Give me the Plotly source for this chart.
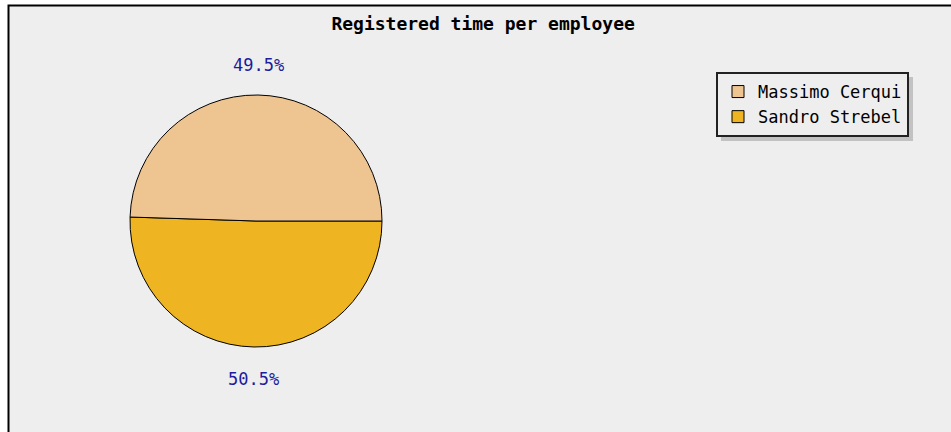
import math
import plotly.graph_objects as go

names = ["Massimo Cerqui", "Sandro Strebel"]
values = [49.5, 50.5]
colors = ["#EEC591", "#EEB422"]

W, H = 951, 432
def px(x): return x / W
def py(y): return 1 - y / H

CX, CY, R = 256, 221, 126   # pie centre and radius in pixels (layout)
LABEL_R = R + 31            # distance of the percentage labels from centre

# slices drawn counterclockwise from 3 o'clock: feed plotly the reversed order clockwise
fig = go.Figure(go.Pie(
    labels=names[::-1], values=values[::-1], sort=False,
    direction="clockwise", rotation=90,
    marker=dict(colors=colors[::-1], line=dict(color="#000000", width=1)),
    textinfo="none",
    domain=dict(x=[px(CX - R), px(CX + R)], y=[py(CY + R), py(CY - R)]),
    hoverinfo="skip",
))

# percentage labels placed outside each slice at its mid-angle (from the data)
total = sum(values)
start = 0.0
annotations = []
for v in values:
    frac = v / total
    mid = (start + frac / 2) * 2 * math.pi   # counterclockwise from 3 o'clock
    start += frac
    lx = CX + LABEL_R * math.cos(mid)
    ly = CY - LABEL_R * math.sin(mid) + 1
    annotations.append(dict(
        xref="paper", yref="paper", x=px(lx), y=py(ly),
        xanchor="center", yanchor="middle", showarrow=False,
        text=f"{frac * 100:.1f}%",
        font=dict(family="DejaVu Sans Mono", size=17, color="#1c1c9c"),
    ))

fig.update_layout(
    width=W, height=H, margin=dict(l=0, r=0, t=0, b=0),
    paper_bgcolor="#FFFFFF", plot_bgcolor="#EEEEEE",
    title=dict(text="<b>Registered time per employee</b>", x=0.508, xanchor="center",
               y=py(24), yanchor="middle",
               font=dict(family="DejaVu Sans Mono", size=18, color="#000000")),
    showlegend=True,
    legend=dict(x=px(716), y=py(72), xanchor="left", yanchor="top",
                traceorder="reversed",
                bgcolor="#EEEEEE", bordercolor="#222222", borderwidth=2,
                font=dict(family="DejaVu Sans Mono", size=17, color="#000000"),
                tracegroupgap=0),
    annotations=annotations,
    shapes=[
        dict(type="rect", xref="paper", yref="paper", x0=px(8.5), x1=1.02, y0=-0.02, y1=py(5.5),
             fillcolor="#EEEEEE", line=dict(color="#000000", width=2), layer="below"),
        dict(type="rect", xref="paper", yref="paper", x0=px(721), x1=px(913), y0=py(141), y1=py(77),
             fillcolor="#C2C2C2", line=dict(width=0), layer="below"),
    ],
)

fig.write_html("out.html")
